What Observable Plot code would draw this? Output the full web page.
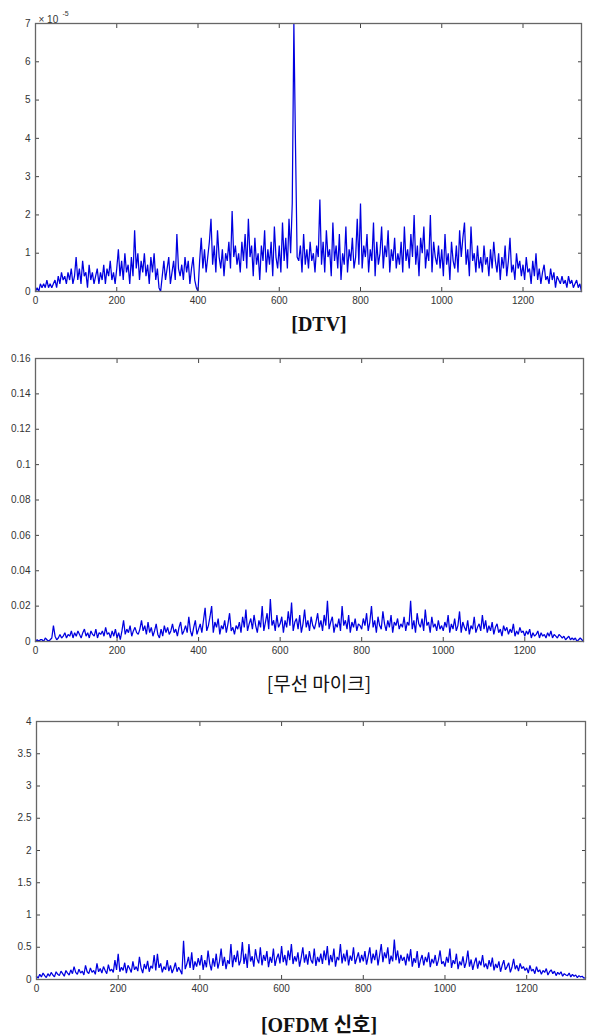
<!DOCTYPE html>
<html>
<head>
<meta charset="utf-8">
<script src="https://cdn.jsdelivr.net/npm/d3@7"></script>
<script src="https://cdn.jsdelivr.net/npm/@observablehq/plot@0.6"></script>
<style>
  html, body { margin: 0; padding: 0; background: #fff; }
  #wrap { position: relative; width: 589px; height: 1035px; overflow: hidden; }
  .panel { position: absolute; left: 0; }
  .cap { position: absolute; left: 0; width: 638px; text-align: center; color: #111; white-space: nowrap; }
</style>
</head>
<body>
<div id="wrap"></div>
<script>
// x sample spacing of the sampled spectra (bin index)
const xStep = 4;
const xTicks = [0, 200, 400, 600, 800, 1000, 1200];

// DTV, units of 1e-6 (axis shows ×10^-5)
const dtv = [
  0,1,0,2,1,2,1,3,1,2,1,2,3,1,4,2,5,3,4,2,5,3,6,2,4,
  9,3,6,2,8,4,5,1,7,3,5,2,4,6,2,5,3,7,2,6,4,8,3,5,2,
  6,11,4,8,3,10,5,7,2,9,4,16,6,10,3,8,5,10,4,7,2,9,5,10,3,
  6,1,0,4,8,3,6,9,2,5,8,3,15,6,4,7,3,9,5,8,2,6,9,3,1,
  0,8,14,6,11,5,9,13,19,7,12,5,16,9,6,11,4,10,8,13,6,21,9,12,7,
  10,5,13,8,15,6,19,9,12,4,14,7,10,3,12,8,16,5,11,7,13,4,17,9,6,
  12,5,18,8,14,6,19,10,23,70,38,9,8,12,5,15,7,11,6,13,8,10,5,12,9,
  24,7,13,5,16,9,11,4,18,8,12,6,15,3,10,7,17,5,11,8,14,6,9,19,7,
  23,6,12,9,15,5,11,8,18,4,13,7,10,17,6,12,9,16,5,11,8,14,6,10,7,
  13,5,17,8,11,6,15,9,20,7,12,4,14,10,17,6,11,8,20,5,13,9,7,12,6,
  11,4,15,7,10,3,13,8,6,12,5,16,9,14,18,7,11,4,17,8,10,5,12,6,9,
  5,12,7,9,4,11,6,13,8,5,10,3,9,6,12,4,8,14,5,7,3,10,6,8,4,
  7,3,9,5,6,2,8,4,10,3,6,2,5,7,3,4,2,6,3,5,1,4,3,2,4,
  2,3,1,4,2,3,1,2,3,1,2,0
];

// Wireless microphone, units of 0.001
const mic = [
  0,1,0,1,1,0,2,1,0,1,2,9,3,1,2,4,2,3,5,2,4,3,6,2,5,
  3,6,4,2,5,7,3,5,2,6,4,3,7,2,5,4,6,3,8,4,5,2,6,3,7,
  2,5,1,6,12,4,7,5,9,3,6,8,5,4,7,12,6,9,4,11,5,8,3,6,10,
  4,2,7,3,9,5,8,4,6,10,5,7,3,8,11,4,6,9,5,14,6,3,8,12,4,
  7,10,5,12,19,6,9,14,20,5,11,8,13,4,9,7,12,5,10,16,6,8,4,9,7,
  11,5,14,8,18,6,10,13,7,15,9,5,12,8,20,6,11,16,7,24,9,12,6,15,8,
  10,14,5,12,8,17,9,22,6,11,13,7,15,5,10,18,8,12,6,14,9,7,11,16,8,
  12,6,15,9,23,7,11,14,5,10,8,13,6,20,9,12,7,15,5,11,8,13,6,10,9,
  7,13,9,16,6,11,20,8,12,5,14,9,7,17,10,6,12,8,15,5,11,9,13,7,10,
  8,14,6,11,9,23,7,12,5,16,10,8,13,6,18,9,11,5,14,8,10,6,12,7,9,
  6,11,8,15,5,10,7,13,6,9,17,5,11,8,6,12,4,9,7,14,5,8,10,6,15,
  7,12,5,9,6,11,4,8,10,5,7,3,9,6,8,4,7,5,10,3,6,4,8,5,6,
  3,6,4,7,2,5,3,4,6,2,5,3,4,2,5,3,6,2,4,3,2,4,3,2,3,
  1,2,3,1,2,1,2,0,1,2,1,0
];

// OFDM signal, units of 0.01
const ofdm = [
  5,2,8,4,10,6,3,9,5,11,7,4,12,8,6,13,9,5,14,10,7,15,9,20,11,
  8,16,10,13,7,22,12,9,18,11,14,8,25,12,17,10,20,14,9,23,13,16,11,30,15,
  40,12,19,14,26,10,22,17,11,28,15,20,13,35,18,10,24,16,29,12,21,17,38,14,40,
  18,25,11,20,15,30,13,22,10,17,26,12,19,14,8,60,16,24,35,18,42,15,28,20,33,
  22,38,15,30,19,45,25,14,33,20,40,17,28,48,21,35,16,30,24,55,19,38,27,45,22,
  30,58,24,40,18,55,28,36,20,47,32,25,50,22,38,29,44,19,35,26,48,21,33,40,25,
  52,27,38,22,45,30,55,24,36,28,42,20,34,50,26,39,23,44,30,25,48,21,35,27,40,
  24,45,30,52,22,38,27,48,20,35,30,55,25,40,28,46,22,37,29,50,24,33,42,26,38,
  28,44,23,36,50,25,40,30,46,22,38,55,27,42,33,50,24,37,28,62,30,45,25,38,29,
  35,22,40,28,47,20,33,26,44,18,30,38,22,35,27,42,19,32,25,38,21,30,45,24,28,
  20,35,26,48,18,30,24,40,16,28,22,36,18,27,45,20,31,15,26,34,17,29,22,38,19,
  25,16,30,20,34,14,24,18,28,12,22,30,15,20,26,11,19,32,16,22,13,25,17,20,14,
  18,10,22,13,16,9,20,12,15,8,14,11,17,7,12,15,9,13,6,11,8,12,5,9,7,
  6,10,4,8,5,7,3,6,4,5,2,3
];

const dtvTicks = [0,1,2,3,4,5,6,7];
const micTicks = [0,0.02,0.04,0.06,0.08,0.1,0.12,0.14,0.16];
const ofdmTicks = [0,0.5,1,1.5,2,2.5,3,3.5,4];

const captions = ["[DTV]", "[무선 마이크]", "[OFDM 신호]"];

const xMax = 1344;
const wrap = document.getElementById("wrap");

function panel(cfg) {
  const rows = cfg.values.map((v, i) => ({x: i * xStep, y: v * cfg.unit}));
  const p = Plot.plot({
    width: 589,
    height: cfg.height,
    marginTop: cfg.mt, marginBottom: cfg.mb, marginLeft: cfg.ml, marginRight: cfg.mr,
    style: {fontFamily: "'Liberation Sans', Arial, sans-serif", fontSize: "10px", color: "#333", background: "#fff"},
    x: {domain: [0, xMax], label: null},
    y: {domain: cfg.ydomain, label: null},
    marks: [
      Plot.line(rows, {x: "x", y: "y", stroke: "#0000e0", strokeWidth: 1.25, strokeLinejoin: "miter"}),
      Plot.axisX({anchor: "bottom", ticks: xTicks, tickSize: 0, tickPadding: 5, tickFormat: d => String(d), fill: "#333"}),
      Plot.axisX({anchor: "bottom", ticks: xTicks, tickSize: -4, tickFormat: () => "", stroke: "#444"}),
      Plot.axisX({anchor: "top", ticks: xTicks, tickSize: -4, tickFormat: () => "", stroke: "#444"}),
      Plot.axisY({anchor: "left", ticks: cfg.yticks, tickSize: 0, tickPadding: 5, tickFormat: cfg.fmt, fill: "#333"}),
      Plot.axisY({anchor: "left", ticks: cfg.yticks, tickSize: -4, tickFormat: () => "", stroke: "#444"}),
      Plot.axisY({anchor: "right", ticks: cfg.yticks, tickSize: -4, tickFormat: () => "", stroke: "#444"}),
      Plot.frame({stroke: "#666", strokeWidth: 1.3}),
      ...(cfg.extra || [])
    ]
  });
  p.classList.add("panel");
  p.style.top = cfg.top + "px";
  p.style.position = "absolute";
  wrap.appendChild(p);
}

panel({
  values: dtv, unit: 0.1, ydomain: [0, 7], yticks: dtvTicks, fmt: d => String(d),
  top: 0, height: 312, mt: 23, mb: 21, ml: 35, mr: 8,
  extra: [
    Plot.text(["× 10"], {frameAnchor: "top-left", dx: 3, dy: -8, fontSize: 10, fill: "#333", textAnchor: "start"}),
    Plot.text(["-5"], {frameAnchor: "top-left", dx: 27, dy: -12, fontSize: 7, fill: "#333", textAnchor: "start"})
  ]
});
panel({
  values: mic, unit: 0.001, ydomain: [0, 0.16], yticks: micTicks, fmt: d => d3.format("~g")(+d.toFixed(2)),
  top: 340, height: 322, mt: 18, mb: 21, ml: 35, mr: 6
});
panel({
  values: ofdm, unit: 0.01, ydomain: [0, 4], yticks: ofdmTicks, fmt: d => String(d),
  top: 700, height: 300, mt: 21, mb: 21, ml: 36, mr: 4
});

const capTops = [313, 669, 1009];
const capStyles = [
  "font-family:'Liberation Serif','Times New Roman',serif;font-weight:bold;font-size:20px;",
  "font-family:'Noto Sans CJK KR','Liberation Serif',serif;font-weight:normal;font-size:19px;",
  "font-family:'Liberation Serif','Noto Sans CJK KR',serif;font-weight:bold;font-size:20px;"
];
captions.forEach((t, i) => {
  const d = document.createElement("div");
  d.className = "cap";
  d.textContent = t;
  d.setAttribute("style", capStyles[i] + "top:" + capTops[i] + "px;");
  wrap.appendChild(d);
});
</script>
</body>
</html>
